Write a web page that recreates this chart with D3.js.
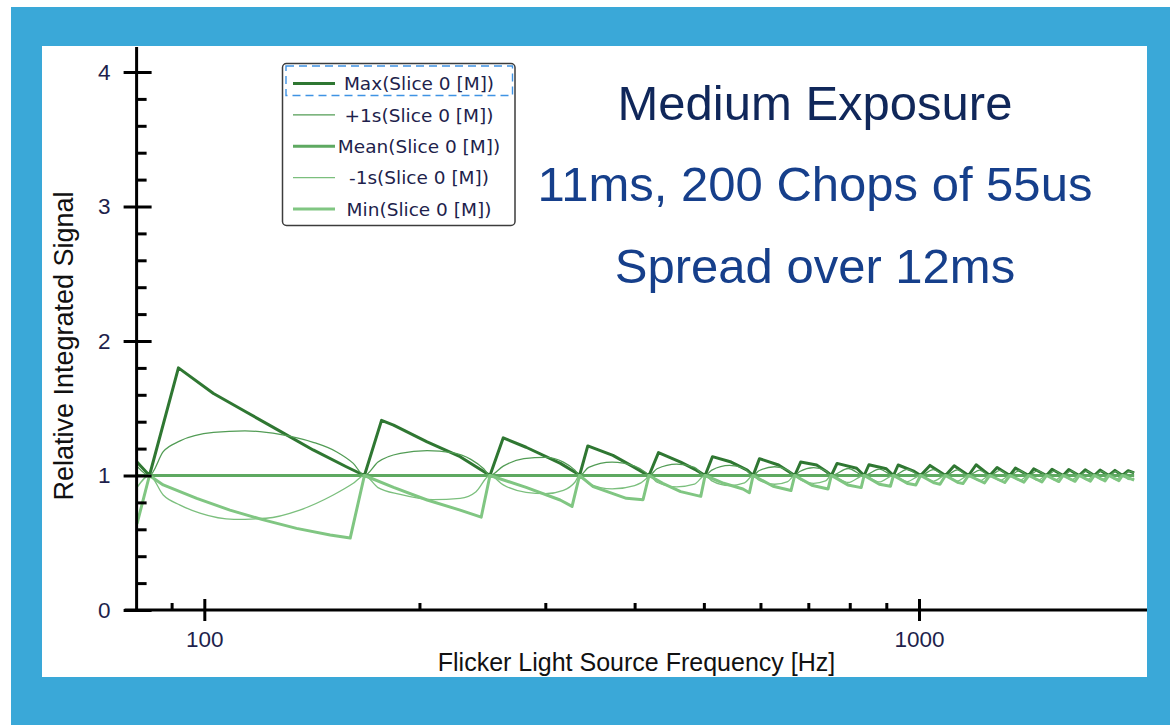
<!DOCTYPE html>
<html>
<head>
<meta charset="utf-8">
<script src="https://cdn.jsdelivr.net/npm/d3@7"></script>
<style>
  body { margin: 0; background: #fff; }
</style>
</head>
<body>
<div id="chart"></div>
<script>
// ------------------------------
// data
// ------------------------------

const legendNames = ["Max(Slice 0 [M])", "+1s(Slice 0 [M])", "Mean(Slice 0 [M])", "-1s(Slice 0 [M])", "Min(Slice 0 [M])"];
const titleLines = ["Medium Exposure", "11ms, 200 Chops of 55us", "Spread over 12ms"];
const xLabel = "Flicker Light Source Frequency [Hz]";
const yLabel = "Relative Integrated Signal";

const xMajorTicks = [100, 1000];
const xMinorTicks = [90, 200, 300, 400, 500, 600, 700, 800, 900];
const yMajorTicks = [0, 1, 2, 3, 4];
const yMinorTicks = [0.2, 0.4, 0.6, 0.8, 1.2, 1.4, 1.6, 1.8, 2.2, 2.4, 2.6, 2.8, 3.2, 3.4, 3.6, 3.8];

// [frequency Hz, relative signal]
const maxSeries = [
  [80.5, 1.10], [83.8, 1.00],
  [92, 1.80], [103, 1.61], [114.6, 1.47], [127.6, 1.33], [142, 1.19], [158, 1.065], [167.5, 1.00],
  [177, 1.41], [184, 1.375], [205, 1.25], [228, 1.14], [246, 1.03], [251, 1.00],
  [262, 1.28], [282, 1.21], [315, 1.09], [331, 1.02], [335, 1.00],
  [344, 1.22], [373, 1.15], [398, 1.066], [415, 1.01], [419, 1.00],
  [432, 1.17], [464, 1.10], [488, 1.04], [502, 1.00],
  [514, 1.14], [546, 1.10], [575, 1.04], [586, 1.00],
  [598, 1.125], [636, 1.078], [657, 1.03], [670, 1.00],
  [683, 1.10], [719, 1.078], [742, 1.03], [754, 1.00],
  [768, 1.09], [818, 1.054], [838, 1.00],
  [851, 1.08], [900, 1.05], [921, 1.00],
  [935, 1.078], [985, 1.03], [1005, 1.00],
  [1036, 1.075], [1089, 1.00],
  [1120, 1.072], [1173, 1.00],
  [1202, 1.08], [1256, 1.00],
  [1286, 1.06], [1340, 1.00],
  [1364, 1.055], [1424, 1.00],
  [1447, 1.05], [1508, 1.00],
  [1535, 1.046], [1591, 1.00],
  [1620, 1.045], [1675, 1.00],
  [1708, 1.042], [1759, 1.00],
  [1792, 1.04], [1843, 1.00],
  [1880, 1.038], [1926, 1.00],
  [1962, 1.036], [2000, 1.02]
];

const plus1Series = [
  [80.5, 1.07], [83.8, 1.00],
  [87.6, 1.177], [92.5, 1.257], [103, 1.32], [114, 1.332], [127.6, 1.306], [142, 1.247], [153, 1.177], [161.6, 1.09], [167.5, 1.00],
  [175, 1.10], [188, 1.165], [205, 1.185], [222, 1.17], [236, 1.12], [246, 1.05], [251, 1.00],
  [262, 1.07], [280, 1.125], [300, 1.135], [318, 1.10], [330, 1.04], [335, 1.00],
  [345, 1.06], [372, 1.10], [400, 1.07], [415, 1.02], [419, 1.00],
  [430, 1.05], [458, 1.085], [485, 1.06], [502, 1.00],
  [513, 1.04], [543, 1.075], [570, 1.05], [586, 1.00],
  [597, 1.035], [628, 1.065], [655, 1.04], [670, 1.00],
  [681, 1.03], [712, 1.058], [740, 1.035], [754, 1.00],
  [796, 1.052], [838, 1.00],
  [880, 1.048], [921, 1.00],
  [963, 1.045], [1005, 1.00],
  [1047, 1.043], [1089, 1.00],
  [1131, 1.042], [1173, 1.00],
  [1215, 1.04], [1256, 1.00],
  [1298, 1.038], [1340, 1.00],
  [1382, 1.037], [1424, 1.00],
  [1466, 1.036], [1508, 1.00],
  [1550, 1.035], [1591, 1.00],
  [1633, 1.034], [1675, 1.00],
  [1717, 1.033], [1759, 1.00],
  [1801, 1.032], [1843, 1.00],
  [1885, 1.031], [1926, 1.00],
  [1968, 1.03], [2000, 1.02]
];

const meanSeries = [[80.5, 1.00], [2000, 1.00]];

const minus1Series = [
  [80.5, 0.91], [83.8, 1.00],
  [87.6, 0.855], [92.5, 0.78], [98.6, 0.72], [110, 0.674], [122, 0.682], [136, 0.743], [151.5, 0.855], [161.6, 0.942], [167.5, 1.00],
  [175, 0.91], [188, 0.86], [209, 0.82], [228, 0.83], [240, 0.88], [251, 1.00],
  [262, 0.93], [282, 0.875], [300, 0.865], [318, 0.89], [330, 0.95], [335, 1.00],
  [345, 0.94], [372, 0.90], [400, 0.925], [415, 0.975], [419, 1.00],
  [430, 0.95], [458, 0.915], [485, 0.935], [502, 1.00],
  [513, 0.96], [543, 0.925], [570, 0.945], [586, 1.00],
  [597, 0.965], [628, 0.935], [655, 0.955], [670, 1.00],
  [681, 0.97], [712, 0.942], [740, 0.96], [754, 1.00],
  [796, 0.948], [838, 1.00],
  [880, 0.952], [921, 1.00],
  [963, 0.955], [1005, 1.00],
  [1047, 0.957], [1089, 1.00],
  [1131, 0.958], [1173, 1.00],
  [1215, 0.96], [1256, 1.00],
  [1298, 0.962], [1340, 1.00],
  [1382, 0.963], [1424, 1.00],
  [1466, 0.964], [1508, 1.00],
  [1550, 0.965], [1591, 1.00],
  [1633, 0.966], [1675, 1.00],
  [1717, 0.967], [1759, 1.00],
  [1801, 0.968], [1843, 1.00],
  [1885, 0.969], [1926, 1.00],
  [1968, 0.97], [2000, 0.98]
];

const minSeries = [
  [80.5, 0.64], [83.8, 1.00],
  [87.6, 0.93], [97.6, 0.83], [108.6, 0.743], [121, 0.67], [134.6, 0.607], [150, 0.558], [160, 0.535], [167.5, 1.00],
  [184, 0.912], [205, 0.818], [228, 0.743], [244, 0.69], [251, 1.00],
  [282, 0.912], [314.7, 0.818], [327, 0.77], [335, 1.00],
  [350, 0.917], [389.5, 0.83], [411, 0.82], [419, 1.00],
  [438, 0.942], [464, 0.88], [495, 0.845], [502, 1.00],
  [533, 0.942], [567, 0.90], [579, 0.872], [586, 1.00],
  [625, 0.92], [662, 0.888], [670, 1.00],
  [710, 0.925], [746, 0.90], [754, 1.00],
  [795, 0.93], [830, 0.91], [838, 1.00],
  [880, 0.935], [912, 0.92], [921, 1.00],
  [965, 0.94], [990, 0.93], [1005, 1.00],
  [1050, 0.945], [1070, 0.935], [1089, 1.00],
  [1135, 0.947], [1152, 0.94], [1173, 1.00],
  [1235, 0.945], [1256, 1.00],
  [1318, 0.948], [1340, 1.00],
  [1402, 0.95], [1424, 1.00],
  [1486, 0.952], [1508, 1.00],
  [1569, 0.955], [1591, 1.00],
  [1653, 0.957], [1675, 1.00],
  [1737, 0.958], [1759, 1.00],
  [1821, 0.96], [1843, 1.00],
  [1904, 0.962], [1926, 1.00],
  [2000, 0.965]
];

// ------------------------------
// layout / styles
// ------------------------------

const width = 1170;
const height = 725;
const sansFont = "'Liberation Sans', Arial, sans-serif";
const legendFont = "'DejaVu Sans', Verdana, sans-serif";

const seriesData = [maxSeries, plus1Series, meanSeries, minus1Series, minSeries];
const seriesColor = ["#2f7732", "#529c55", "#5ea961", "#7bbf7d", "#80c682"];
const seriesWidth = [3, 1.3, 3, 1.3, 3];
const seriesSmooth = [false, true, false, true, false];

const svg = d3.select("#chart")
  .append("svg")
  .attr("width", width)
  .attr("height", height)
  .attr("font-family", sansFont);

// blue frame + white panel
svg.append("rect")
  .attr("x", 11).attr("y", 7)
  .attr("width", width - 11).attr("height", height - 7)
  .attr("fill", "#3aa8d8");

const panel = { x: 42, y: 46, w: 1105, h: 631 };

svg.append("rect")
  .attr("x", panel.x).attr("y", panel.y)
  .attr("width", panel.w).attr("height", panel.h)
  .attr("fill", "#fff");

svg.append("defs").append("clipPath")
  .attr("id", "panel-clip")
  .append("rect")
  .attr("x", panel.x).attr("y", panel.y)
  .attr("width", panel.w).attr("height", panel.h);

const g = svg.append("g").attr("clip-path", "url(#panel-clip)");

// scales
const x = d3.scaleLog().domain([80.4, 2100]).range([136.6, 1149.3]);
const y = d3.scaleLinear().domain([0, 4]).range([610, 72]);

// ------------------------------
// series
// ------------------------------

const lineSharp = d3.line().x(d => x(d[0])).y(d => y(d[1]));
const lineSmooth = d3.line().x(d => x(d[0])).y(d => y(d[1])).curve(d3.curveMonotoneX);

g.append("g")
  .selectAll("path")
  .data(seriesData)
  .join("path")
  .attr("d", (d, i) => seriesSmooth[i] ? lineSmooth(d) : lineSharp(d))
  .attr("fill", "none")
  .attr("stroke", (d, i) => seriesColor[i])
  .attr("stroke-width", (d, i) => seriesWidth[i])
  .attr("stroke-linejoin", "round");

// ------------------------------
// axes
// ------------------------------

const tickFill = "#1e1f4c";

const yAxisG = g.append("g")
  .attr("transform", `translate(${x.range()[0]},0)`);

yAxisG.call(d3.axisLeft(y)
  .tickValues(yMajorTicks)
  .tickSize(13)
  .tickPadding(13)
  .tickFormat(d3.format("d")));
yAxisG.select(".domain").remove();
yAxisG.selectAll(".tick line").attr("x1", 15);

const yMinorG = g.append("g")
  .attr("transform", `translate(${x.range()[0]},0)`)
  .call(d3.axisRight(y).tickValues(yMinorTicks).tickSize(10).tickFormat(""));
yMinorG.select(".domain").remove();

yAxisG.append("line")
  .attr("class", "axis-line")
  .attr("y1", y(0))
  .attr("y2", y.range()[1] - 25);

const xAxisG = g.append("g")
  .attr("transform", `translate(0,${y(0)})`);

xAxisG.call(d3.axisBottom(x)
  .tickValues(xMajorTicks)
  .tickSize(11)
  .tickPadding(10)
  .tickFormat(d3.format("d")));
xAxisG.select(".domain").remove();
xAxisG.selectAll(".tick line").attr("y1", -11);

const xMinorG = g.append("g")
  .attr("transform", `translate(0,${y(0)})`)
  .call(d3.axisTop(x).tickValues(xMinorTicks).tickSize(7).tickFormat(""));
xMinorG.select(".domain").remove();

xAxisG.append("line")
  .attr("class", "axis-line")
  .attr("x1", x.range()[0] - 12)
  .attr("x2", x.range()[1]);

g.selectAll(".tick line, .axis-line")
  .style("stroke", "#000")
  .style("stroke-width", "3px");

g.selectAll(".tick text")
  .attr("font-family", sansFont)
  .attr("font-size", 22.5)
  .attr("fill", tickFill);

// axis titles
svg.append("text")
  .attr("x", 636.5)
  .attr("y", 671)
  .attr("text-anchor", "middle")
  .attr("font-size", 25)
  .attr("fill", "#111")
  .text(xLabel);

svg.append("text")
  .attr("transform", "translate(72.5,346) rotate(-90)")
  .attr("text-anchor", "middle")
  .attr("font-size", 27)
  .attr("fill", "#111")
  .text(yLabel);

// ------------------------------
// legend
// ------------------------------

const legend = svg.append("g");

legend.append("rect")
  .attr("x", 282.5).attr("y", 63.5)
  .attr("width", 232.5).attr("height", 162)
  .attr("rx", 4)
  .attr("fill", "#fff")
  .attr("stroke", "#3c3c3c")
  .attr("stroke-width", 1.5);

// focus outline around the first entry
legend.append("rect")
  .attr("x", 286).attr("y", 66)
  .attr("width", 226.5).attr("height", 29.5)
  .attr("fill", "none")
  .attr("stroke", "#3f93e4")
  .attr("stroke-width", 1.4)
  .attr("stroke-dasharray", "8,5");

const rows = legend.selectAll("g.row")
  .data(legendNames)
  .join("g")
  .attr("class", "row")
  .attr("transform", (d, i) => `translate(0,${83.5 + 31.4 * i})`);

rows.append("line")
  .attr("x1", 293).attr("x2", 335)
  .attr("stroke", (d, i) => seriesColor[i])
  .attr("stroke-width", (d, i) => seriesWidth[i]);

rows.append("text")
  .attr("x", 419)
  .attr("dy", "0.36em")
  .attr("text-anchor", "middle")
  .attr("font-family", legendFont)
  .attr("font-size", 18.5)
  .attr("fill", tickFill)
  .text(d => d);

// ------------------------------
// titles on the right
// ------------------------------

svg.append("g")
  .selectAll("text")
  .data(titleLines)
  .join("text")
  .attr("x", 815)
  .attr("y", (d, i) => 119.5 + 81.5 * i)
  .attr("text-anchor", "middle")
  .attr("font-size", 49)
  .attr("fill", (d, i) => i === 0 ? "#10275a" : "#163f8b")
  .text(d => d);
</script>
</body>
</html>
